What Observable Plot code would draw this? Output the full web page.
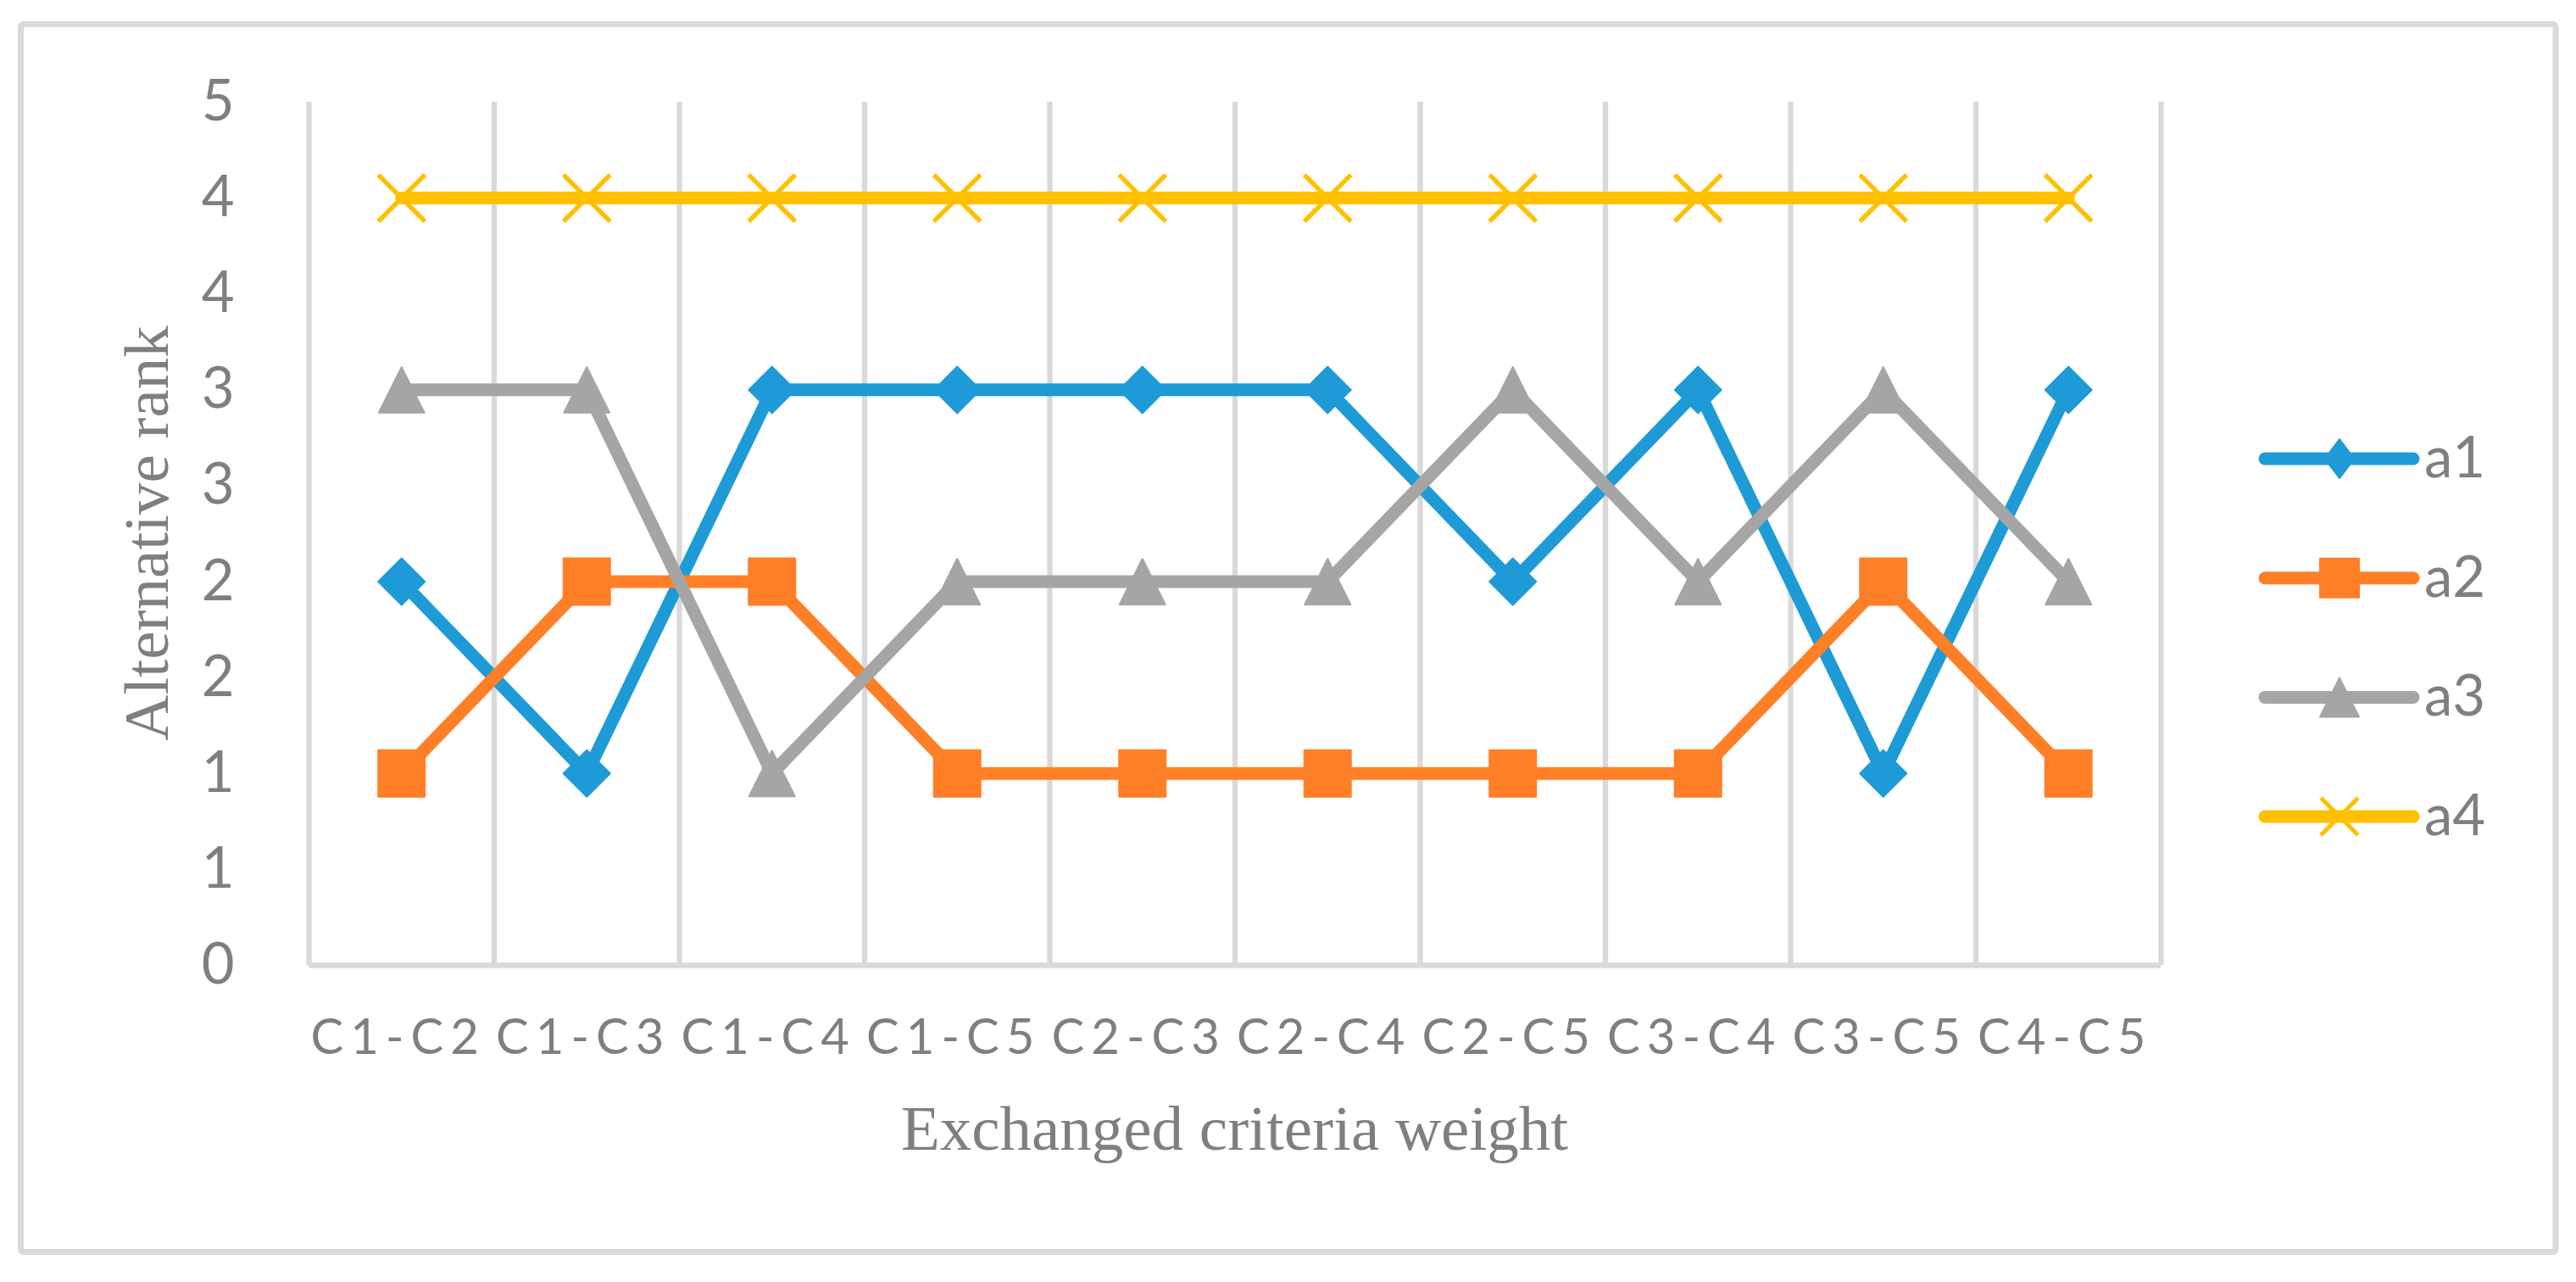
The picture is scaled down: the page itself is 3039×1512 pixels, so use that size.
<!DOCTYPE html>
<html>
<head>
<meta charset="utf-8">
<script src="https://cdn.jsdelivr.net/npm/d3@7"></script>
<script src="https://cdn.jsdelivr.net/npm/@observablehq/plot@0.6"></script>
<style>
  html, body { margin: 0; padding: 0; background: #fff; }
  #chart { position: relative; width: 3039px; height: 1512px; }
  g[aria-label="x-axis tick label"] text { letter-spacing: 8px; }
</style>
</head>
<body>
<div id="chart"></div>
<script>
const categories = ["C1-C2","C1-C3","C1-C4","C1-C5","C2-C3","C2-C4","C2-C5","C3-C4","C3-C5","C4-C5"];
const a1 = [2,1,3,3,3,3,2,3,1,3];
const a2 = [1,2,2,1,1,1,1,1,2,1];
const a3 = [3,3,1,2,2,2,3,2,3,2];
const a4 = [4,4,4,4,4,4,4,4,4,4];
const seriesNames = ["a1","a2","a3","a4"];
const seriesValues = [a1, a2, a3, a4];
const seriesColors = ["#1e9bd7","#ff7f27","#a5a5a5","#ffc000"];
const yTicks = [0,0.5,1,1.5,2,2.5,3,3.5,4,4.5];
const yTickLabels = ["0","1","1","2","2","3","3","4","4","5"];
const xTitle = "Exchanged criteria weight";
const yTitle = "Alternative rank";

const textColor = "#7f7f7f";
const gridColor = "#d9d9d9";

// custom symbols (size = PI * r^2)
const rad = size => Math.sqrt(size / Math.PI);
const diamondSym = { draw(c, size) { const s = rad(size); c.moveTo(0,-s); c.lineTo(s,0); c.lineTo(0,s); c.lineTo(-s,0); c.closePath(); } };
const squareSym  = { draw(c, size) { const s = rad(size); c.moveTo(-s,-s); c.lineTo(s,-s); c.lineTo(s,s); c.lineTo(-s,s); c.closePath(); } };
const triangleSym= { draw(c, size) { const s = rad(size); c.moveTo(0,-s); c.lineTo(s,s); c.lineTo(-s,s); c.closePath(); } };
const timesSym   = { draw(c, size) { const s = rad(size); c.moveTo(-s,-s); c.lineTo(s,s); c.moveTo(s,-s); c.lineTo(-s,s); } };
const symbols = [diamondSym, squareSym, triangleSym, timesSym];
const symR = [27.5, 27.5, 27, 27.5];

const W = 3039, H = 1512;
const mL = 364, mR = 490, mT = 120, mB = 374;

const seriesMarks = [];
seriesNames.forEach((name, k) => {
  const data = categories.map((c, i) => ({ i, v: seriesValues[k][i], name }));
  seriesMarks.push(Plot.line(data, {
    x: "i", y: "v", stroke: seriesColors[k], strokeWidth: 15,
    strokeLinejoin: "round", strokeLinecap: "round"
  }));
  if (k === 3) {
    seriesMarks.push(Plot.dot(data, {
      x: "i", y: "v", symbol: symbols[k], r: symR[k],
      fill: "none", stroke: seriesColors[k], strokeWidth: 5.5, strokeLinecap: "butt"
    }));
  } else {
    seriesMarks.push(Plot.dot(data, {
      x: "i", y: "v", symbol: symbols[k], r: symR[k],
      fill: seriesColors[k], stroke: seriesColors[k], strokeWidth: 2, strokeLinejoin: "round"
    }));
  }
});

const gridX = d3.range(categories.length + 1).map(i => i - 0.5);

const plot = Plot.plot({
  width: W, height: H,
  marginLeft: mL, marginRight: mR, marginTop: mT, marginBottom: mB,
  style: { background: "transparent", fontFamily: "Lato, sans-serif", color: textColor, overflow: "visible" },
  x: { domain: [-0.5, categories.length - 0.5] },
  y: { domain: [0, 4.5] },
  marks: [
    Plot.ruleX(gridX, { stroke: gridColor, strokeWidth: 6.3, y1: 0, y2: 4.5 }),
    Plot.ruleY([0], { stroke: gridColor, strokeWidth: 6.3, x1: -0.5, x2: categories.length - 0.5 }),
    Plot.axisY({ ticks: yTicks, tickFormat: d => yTickLabels[yTicks.indexOf(d)], tickSize: 0, tickPadding: 88, fontSize: 67, label: null, fill: textColor }),
    Plot.axisX({ ticks: d3.range(categories.length), tickFormat: i => categories[i], tickSize: 0, tickPadding: 63, fontSize: 58, label: null, fill: textColor, dx: -4 }),
    ...seriesMarks
  ]
});

document.getElementById("chart").appendChild(plot);

const svg = d3.select(plot);

// outer border
svg.insert("rect", ":first-child")
  .attr("x", 24.5).attr("y", 28.5).attr("width", 2990.5).attr("height", 1448)
  .attr("rx", 3).attr("fill", "none").attr("stroke", gridColor).attr("stroke-width", 7);

// axis titles
const cx = (mL + (W - mR)) / 2;
const cy = (mT + (H - mB)) / 2;
svg.append("text")
  .attr("x", cx).attr("y", 1356)
  .attr("text-anchor", "middle")
  .attr("font-family", "'Liberation Serif', 'Times New Roman', serif")
  .attr("font-size", 75).attr("fill", textColor)
  .text(xTitle);
svg.append("text")
  .attr("transform", `translate(198,${cy}) rotate(-90)`)
  .attr("text-anchor", "middle")
  .attr("font-family", "'Liberation Serif', 'Times New Roman', serif")
  .attr("font-size", 75).attr("fill", textColor)
  .text(yTitle);

// legend
const legendSymPaths = [
  () => { const p = d3.path(); p.moveTo(0,-23); p.lineTo(17.5,0); p.lineTo(0,23); p.lineTo(-17.5,0); p.closePath(); return p.toString(); },
  () => { const p = d3.path(); p.moveTo(-23,-23); p.lineTo(23,-23); p.lineTo(23,23); p.lineTo(-23,23); p.closePath(); return p.toString(); },
  () => { const p = d3.path(); p.moveTo(0,-23); p.lineTo(23,23); p.lineTo(-23,23); p.closePath(); return p.toString(); },
  () => { const p = d3.path(); p.moveTo(-22,-22); p.lineTo(22,22); p.moveTo(22,-22); p.lineTo(-22,22); return p.toString(); }
];
const lg = svg.append("g").attr("class", "legend");
seriesNames.forEach((name, k) => {
  const y = 541 + k * 140.7;
  const g = lg.append("g").attr("transform", `translate(0,${y})`);
  g.append("line").attr("x1", 2672).attr("x2", 2847).attr("y1", 0).attr("y2", 0)
    .attr("stroke", seriesColors[k]).attr("stroke-width", 15).attr("stroke-linecap", "round");
  const sp = g.append("path").attr("transform", "translate(2760,0)").attr("d", legendSymPaths[k]());
  if (k === 3) sp.attr("fill", "none").attr("stroke", seriesColors[k]).attr("stroke-width", 5);
  else sp.attr("fill", seriesColors[k]).attr("stroke", seriesColors[k]).attr("stroke-width", 2).attr("stroke-linejoin", "round");
  g.append("text").attr("x", 2860).attr("y", 22)
    .attr("text-anchor", "start")
    .attr("font-family", "Lato, sans-serif").attr("font-size", 67).attr("fill", textColor)
    .text(name);
});
</script>
</body>
</html>
